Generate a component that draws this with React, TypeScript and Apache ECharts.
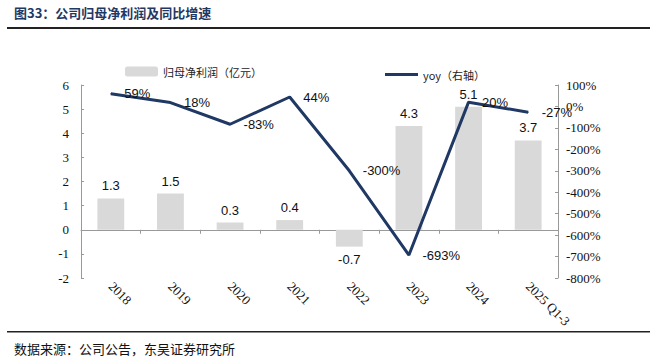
import React, { useEffect, useRef } from "react";
import * as echarts from "echarts";

const categories = ["2018", "2019", "2020", "2021", "2022", "2023", "2024", "2025 Q1-3"];
const profit = [1.3, 1.5, 0.3, 0.4, -0.7, 4.3, 5.1, 3.7];
const yoy = [59, 18, -83, 44, -300, -693, 20, -27];

const NAVY = "#1F3864";
const BAR = "#D9D9D9";
const SERIF = "'Liberation Serif', 'Times New Roman', serif";
const SANS = "'Liberation Sans', Arial, sans-serif";
const CJK = "'Noto Sans CJK SC', sans-serif";

export default function App() {
  const ref = useRef<HTMLDivElement>(null);
  useEffect(() => {
    if (!ref.current) return;
    const chart = echarts.init(ref.current, null, { renderer: "svg" });
    chart.setOption({
      animation: false,
      backgroundColor: "#fff",
      graphic: [
        {
          type: "text",
          left: 14,
          top: 6,
          style: { text: "图33：公司归母净利润及同比增速", fill: NAVY, font: `bold 13px ${CJK}` },
        },
        { type: "rect", shape: { x: 7, y: 27, width: 643, height: 2 }, style: { fill: "#222" } },
        { type: "rect", shape: { x: 7, y: 331, width: 643, height: 1.5 }, style: { fill: "#222" } },
        {
          type: "text",
          left: 14,
          top: 342,
          style: { text: "数据来源：公司公告，东吴证券研究所", fill: "#111", font: `13px ${CJK}` },
        },
      ],
      legend: [
        {
          left: 120,
          top: 61,
          data: ["归母净利润（亿元）"],
          itemWidth: 33,
          itemHeight: 10,
          itemGap: 4,
          textStyle: { fontFamily: CJK, fontSize: 11, color: "#222" },
        },
        {
          left: 380,
          top: 64,
          data: [{ name: "yoy（右轴）", icon: "rect" }],
          itemWidth: 33,
          itemHeight: 3,
          textStyle: { fontFamily: CJK, fontSize: 11, color: "#222" },
        },
      ],
      grid: { left: 81, right: 99, top: 85, bottom: 81 },
      xAxis: {
        type: "category",
        data: categories,
        axisLine: { onZero: true, onZeroAxisIndex: 0, lineStyle: { color: "#999" } },
        axisTick: { show: true, length: 4, lineStyle: { color: "#999" } },
        axisLabel: { rotate: -45, fontFamily: SERIF, fontSize: 13, color: "#111", margin: 6, interval: 0 },
      },
      yAxis: [
        {
          type: "value",
          min: -2,
          max: 6,
          interval: 1,
          splitLine: { show: false },
          axisLine: { show: true, lineStyle: { color: "#999" } },
          axisTick: { show: true, inside: true, length: 3, lineStyle: { color: "#999" } },
          axisLabel: { fontFamily: SERIF, fontSize: 13, color: "#111", margin: 12 },
        },
        {
          type: "value",
          min: -800,
          max: 100,
          interval: 100,
          splitLine: { show: false },
          axisLine: { show: true, lineStyle: { color: "#999" } },
          axisTick: { show: true, inside: true, length: 3, lineStyle: { color: "#999" } },
          axisLabel: { fontFamily: SERIF, fontSize: 13, color: "#111", margin: 8, formatter: (v: number) => `${v}%` },
        },
      ],
      series: [
        {
          name: "归母净利润（亿元）",
          type: "bar",
          yAxisIndex: 0,
          barWidth: "45%",
          itemStyle: { color: BAR },
          data: profit.map((v) => ({
            value: v,
            label: { position: v >= 0 ? "top" : "bottom" },
          })),
          label: {
            show: true,
            distance: 6,
            fontFamily: SANS,
            fontSize: 13,
            color: "#111",
          },
          z: 1,
        },
        {
          name: "yoy（右轴）",
          type: "line",
          yAxisIndex: 1,
          data: yoy,
          symbol: "circle",
          symbolSize: 1,
          showSymbol: true,
          lineStyle: { color: NAVY, width: 3 },
          itemStyle: { color: NAVY },
          label: {
            show: true,
            position: "right",
            distance: 13,
            fontFamily: SANS,
            fontSize: 13,
            color: "#111",
            formatter: (p: any) => `${p.value}%`,
          },
          labelLayout: { hideOverlap: false },
          z: 3,
        },
      ],
    });
    return () => chart.dispose();
  }, []);
  return <div ref={ref} style={{ position: "fixed", left: 0, top: 0, width: 657, height: 359 }} />;
}
